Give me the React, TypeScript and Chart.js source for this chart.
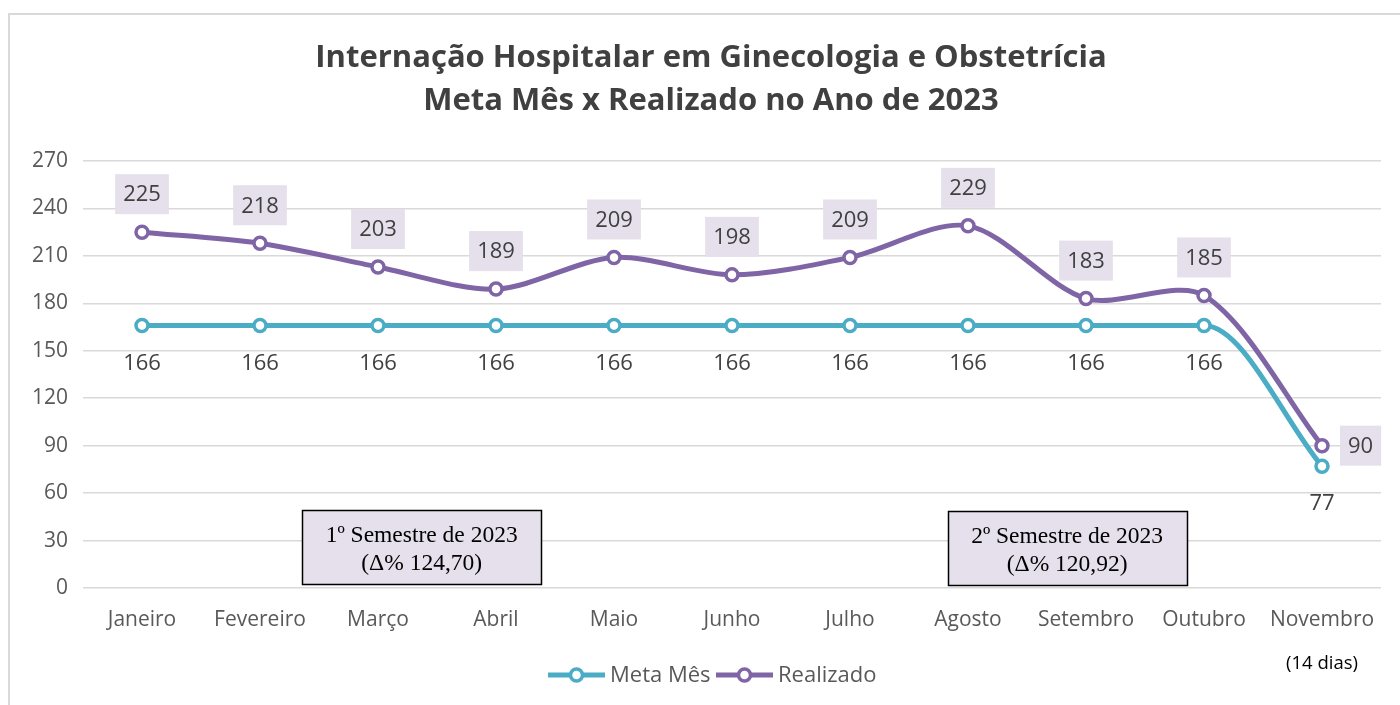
import React, { useEffect, useRef } from "react";
import { Chart, registerables } from "chart.js";

Chart.register(...registerables);

const months = ["Janeiro", "Fevereiro", "Março", "Abril", "Maio", "Junho", "Julho", "Agosto", "Setembro", "Outubro", "Novembro"];
const metaMes = [166, 166, 166, 166, 166, 166, 166, 166, 166, 166, 77];
const realizado = [225, 218, 203, 189, 209, 198, 209, 229, 183, 185, 90];
const yMin = 0;
const yMax = 270;
const yStep = 30;
const titleLines = ["Internação Hospitalar em Ginecologia e Obstetrícia", "Meta Mês x Realizado no Ano de 2023"];
const seriesNames = ["Meta Mês", "Realizado"];
const semesterNotes = [
  ["1º Semestre de 2023", "(Δ% 124,70)"],
  ["2º Semestre de 2023", "(Δ% 120,92)"],
];
const footnote = "(14 dias)";

const TEAL = "#4BACC6";
const PURPLE = "#7F65A6";
const LAV = "#E5E0EC";
const TXT = "#404040";
const SANS = "'Open Sans', 'Noto Sans', sans-serif";

const decorPlugin = {
  id: "decor",
  beforeDraw(chart: any) {
    const ctx = chart.ctx;
    ctx.save();
    ctx.fillStyle = "#ffffff";
    ctx.fillRect(0, 0, chart.width, chart.height);
    ctx.strokeStyle = "#d9d9d9";
    ctx.lineWidth = 2;
    ctx.strokeRect(9, 14, chart.width + 20, chart.height + 20);
    // title
    ctx.fillStyle = TXT;
    ctx.font = `bold 31px ${SANS}`;
    ctx.textAlign = "center";
    ctx.textBaseline = "middle";
    ctx.fillText(titleLines[0], 711, 58);
    ctx.fillText(titleLines[1], 711, 101);
    ctx.restore();
  },
  afterDatasetsDraw(chart: any) {
    const ctx = chart.ctx;
    const xs = chart.scales.x;
    const ys = chart.scales.y;
    const n = months.length;
    ctx.save();
    ctx.font = `22px ${SANS}`;
    ctx.textBaseline = "middle";
    ctx.textAlign = "center";
    // Realizado labels
    for (let i = 0; i < n; i++) {
      const px = xs.getPixelForValue(i);
      const py = ys.getPixelForValue(realizado[i]);
      const t = String(realizado[i]);
      const w = ctx.measureText(t).width + 16;
      const h = 40;
      let bx, by;
      if (i === n - 1) {
        bx = px + 18;
        by = py - h / 2;
      } else {
        bx = px - w / 2;
        by = py - 18 - h;
      }
      ctx.fillStyle = LAV;
      ctx.fillRect(bx, by, w, h);
      ctx.fillStyle = TXT;
      ctx.fillText(t, bx + w / 2, by + h / 2 + 1);
    }
    // Meta labels
    for (let i = 0; i < n; i++) {
      const px = xs.getPixelForValue(i);
      const py = ys.getPixelForValue(metaMes[i]);
      ctx.fillStyle = TXT;
      ctx.fillText(String(metaMes[i]), px, py + 38);
    }
    // semester boxes
    const boxes = [
      { cx: xs.getPixelForValue(2.37), cy: ys.getPixelForValue(26) },
      { cx: xs.getPixelForValue(7.84), cy: ys.getPixelForValue(25) },
    ];
    ctx.font = `23.5px 'Liberation Serif', 'DejaVu Serif', serif`;
    boxes.forEach((b, k) => {
      const w = 239;
      const h = 74;
      const x0 = Math.round(b.cx - w / 2) + 0.5;
      const y0 = Math.round(b.cy - h / 2) + 0.5;
      ctx.fillStyle = LAV;
      ctx.fillRect(x0, y0, w, h);
      ctx.strokeStyle = "#000000";
      ctx.lineWidth = 1.5;
      ctx.strokeRect(x0, y0, w, h);
      ctx.fillStyle = "#000000";
      ctx.fillText(semesterNotes[k][0], b.cx, y0 + 25);
      ctx.fillText(semesterNotes[k][1], b.cx, y0 + 53);
    });
    // legend
    const ly = 675;
    const items = [
      { x: 548, color: TEAL, label: seriesNames[0] },
      { x: 716, color: PURPLE, label: seriesNames[1] },
    ];
    ctx.font = `22px ${SANS}`;
    ctx.textAlign = "left";
    items.forEach((it) => {
      ctx.strokeStyle = it.color;
      ctx.lineWidth = 5;
      ctx.beginPath();
      ctx.moveTo(it.x, ly);
      ctx.lineTo(it.x + 57, ly);
      ctx.stroke();
      ctx.beginPath();
      ctx.arc(it.x + 28.5, ly, 6, 0, Math.PI * 2);
      ctx.fillStyle = "#fff";
      ctx.fill();
      ctx.lineWidth = 3.5;
      ctx.stroke();
      ctx.fillStyle = "#595959";
      ctx.fillText(it.label, it.x + 62, ly + 1);
    });
    // footnote
    ctx.font = `18.5px ${SANS}`;
    ctx.fillStyle = "#000000";
    ctx.textAlign = "center";
    ctx.fillText(footnote, xs.getPixelForValue(n - 1), 664);
    ctx.restore();
  },
};

export default function App() {
  const ref = useRef<HTMLCanvasElement | null>(null);
  useEffect(() => {
    if (!ref.current) return;
    const mk = (label: string, data: number[], color: string, order: number, tension: number, mode: string) => ({
      label,
      data,
      borderColor: color,
      backgroundColor: "#ffffff",
      borderWidth: 5,
      pointRadius: 6,
      pointBorderWidth: 3.5,
      pointBackgroundColor: "#ffffff",
      pointBorderColor: color,
      tension,
      cubicInterpolationMode: mode,
      fill: false,
      order,
    });
    const chart = new Chart(ref.current, {
      type: "line",
      data: {
        labels: months,
        datasets: [
          mk(seriesNames[0], metaMes, TEAL, 1, 0.4, "monotone"),
          mk(seriesNames[1], realizado, PURPLE, 0, 0.3, "default"),
        ] as any,
      },
      options: {
        animation: false,
        responsive: false,
        maintainAspectRatio: false,
        layout: { padding: { top: 161, left: 0, right: 19, bottom: 67 } },
        plugins: { legend: { display: false }, title: { display: false }, tooltip: { enabled: false } },
        scales: {
          x: {
            offset: true,
            grid: { display: false },
            border: { display: false },
            ticks: { color: "#595959", font: { family: "'Open Sans', sans-serif", size: 21 }, padding: 11, maxRotation: 0, autoSkip: false },
            afterFit: (s: any) => { s.height = 50; },
          },
          y: {
            min: yMin,
            max: yMax,
            ticks: { stepSize: yStep, color: "#595959", font: { family: "'Open Sans', sans-serif", size: 21 }, padding: 15 },
            grid: { color: "#d9d9d9", lineWidth: 1.5, drawTicks: false },
            border: { display: false },
            afterFit: (s: any) => { s.width = 83; },
          },
        },
      },
      plugins: [decorPlugin],
    });
    return () => chart.destroy();
  }, []);
  return (
    <div style={{ position: "fixed", left: 0, top: 0, width: 1400, height: 705 }}>
      <canvas ref={ref} width={1400} height={705} style={{ width: 1400, height: 705, display: "block" }} />
    </div>
  );
}
